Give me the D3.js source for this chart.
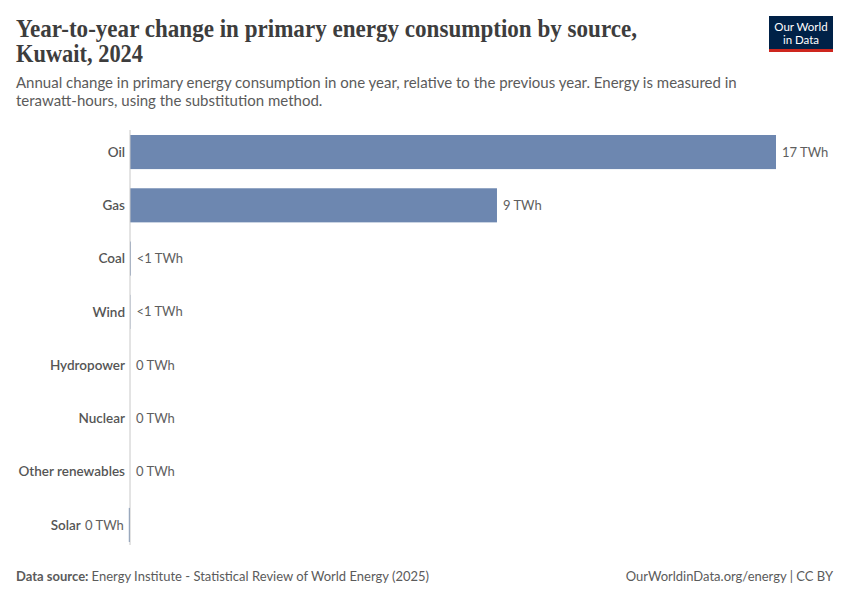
<!DOCTYPE html>
<html>
<head>
<meta charset="utf-8">
<script src="https://cdn.jsdelivr.net/npm/d3@7"></script>
<style>
  body { margin: 0; background: #fff; }
  text { font-family: Lato, "Noto Sans", sans-serif; }
  text.serif { font-family: "Liberation Serif", "DejaVu Serif", serif; }
</style>
</head>
<body>
<div id="chart"></div>
<script>
// Data (TWh, change vs previous year)
let sources = ["Oil", "Gas", "Coal", "Wind", "Hydropower", "Nuclear", "Other renewables", "Solar"];
let changes = [16.6, 9.43, 0.02, 0.01, 0, 0, 0, -0.03];

let width = 850, height = 600;
let margin = {top: 135, right: 74, bottom: 58, left: 130};

let svg = d3.select("#chart")
  .append("svg")
  .attr("width", width)
  .attr("height", height);

// Title + subtitle
let title = svg.append("g").attr("fill", "#3d3d3d");
title.append("text").attr("class", "serif").attr("x", 16).attr("y", 37)
  .style("font-size", "25px").style("font-weight", 600)
  .attr("textLength", 621).attr("lengthAdjust", "spacingAndGlyphs")
  .text("Year-to-year change in primary energy consumption by source,");
title.append("text").attr("class", "serif").attr("x", 16).attr("y", 62)
  .style("font-size", "25px").style("font-weight", 600)
  .attr("textLength", 127).attr("lengthAdjust", "spacingAndGlyphs")
  .text("Kuwait, 2024");

let sub = svg.append("g").attr("fill", "#5b5b5b").style("font-size", "15px");
sub.append("text").attr("x", 16).attr("y", 88)
  .text("Annual change in primary energy consumption in one year, relative to the previous year. Energy is measured in");
sub.append("text").attr("x", 16).attr("y", 106)
  .text("terawatt-hours, using the substitution method.");

// Logo
let logo = svg.append("g").attr("transform", "translate(769,16)");
logo.append("rect").attr("width", 64).attr("height", 36).attr("fill", "#002147");
logo.append("rect").attr("y", 33).attr("width", 64).attr("height", 3).attr("fill", "#ce261e");
logo.append("text").attr("x", 32).attr("y", 15).attr("text-anchor", "middle")
  .attr("fill", "#fff").style("font-size", "11.5px").text("Our World");
logo.append("text").attr("x", 32).attr("y", 28).attr("text-anchor", "middle")
  .attr("fill", "#fff").style("font-size", "11.5px").text("in Data");

// Scales
let x = d3.scaleLinear()
  .domain([0, d3.max(changes)])
  .range([margin.left, width - margin.right]);

let y = d3.scaleBand()
  .domain(sources)
  .range([margin.top, height - margin.bottom])
  .paddingInner(0.36)
  .paddingOuter(0.0);

let rows = sources.map((s, i) => ({source: s, value: changes[i]}));

let fmt = v => {
  let r = Math.round(Math.abs(v));
  if (v > 0 && r === 0) return "<1 TWh";
  return r + " TWh";
};

// Bars
svg.append("g").selectAll("rect")
  .data(rows)
  .join("rect")
  .attr("x", d => Math.min(x(0), x(d.value)))
  .attr("y", d => y(d.source))
  .attr("width", d => Math.abs(x(d.value) - x(0)))
  .attr("height", y.bandwidth())
  .attr("fill", "#6d87b0");

// Zero axis line
svg.append("line")
  .attr("x1", x(0)).attr("x2", x(0))
  .attr("y1", margin.top - 5).attr("y2", height - margin.bottom + 3)
  .attr("stroke", "#c8c8c8").attr("stroke-width", 1);

// Value labels
svg.append("g").selectAll("text")
  .data(rows)
  .join("text")
  .attr("x", d => d.value < 0 ? x(d.value) - 5 : x(d.value) + 6)
  .attr("y", d => y(d.source) + y.bandwidth() / 2)
  .attr("dy", "0.35em")
  .attr("text-anchor", d => d.value < 0 ? "end" : "start")
  .attr("fill", "#5e5e5e")
  .style("font-size", "13px")
  .text(d => fmt(d.value));

// Category labels
svg.append("g").selectAll("text")
  .data(rows)
  .join("text")
  .attr("x", d => d.value < 0 ? x(d.value) - 48 : x(0) - 5)
  .attr("y", d => y(d.source) + y.bandwidth() / 2)
  .attr("dy", "0.35em")
  .attr("text-anchor", "end")
  .attr("fill", "#555")
  .style("font-size", "13.5px")
  .style("font-weight", 600)
  .text(d => d.source);

// Footer
let foot = svg.append("g").style("font-size", "13px").attr("fill", "#5b5b5b");
let src = foot.append("text").attr("x", 16).attr("y", 581);
src.append("tspan").style("font-weight", 700).text("Data source: ");
src.append("tspan").text("Energy Institute - Statistical Review of World Energy (2025)");
foot.append("text").attr("x", 833).attr("y", 581).attr("text-anchor", "end")
  .text("OurWorldinData.org/energy | CC BY");
</script>
</body>
</html>
